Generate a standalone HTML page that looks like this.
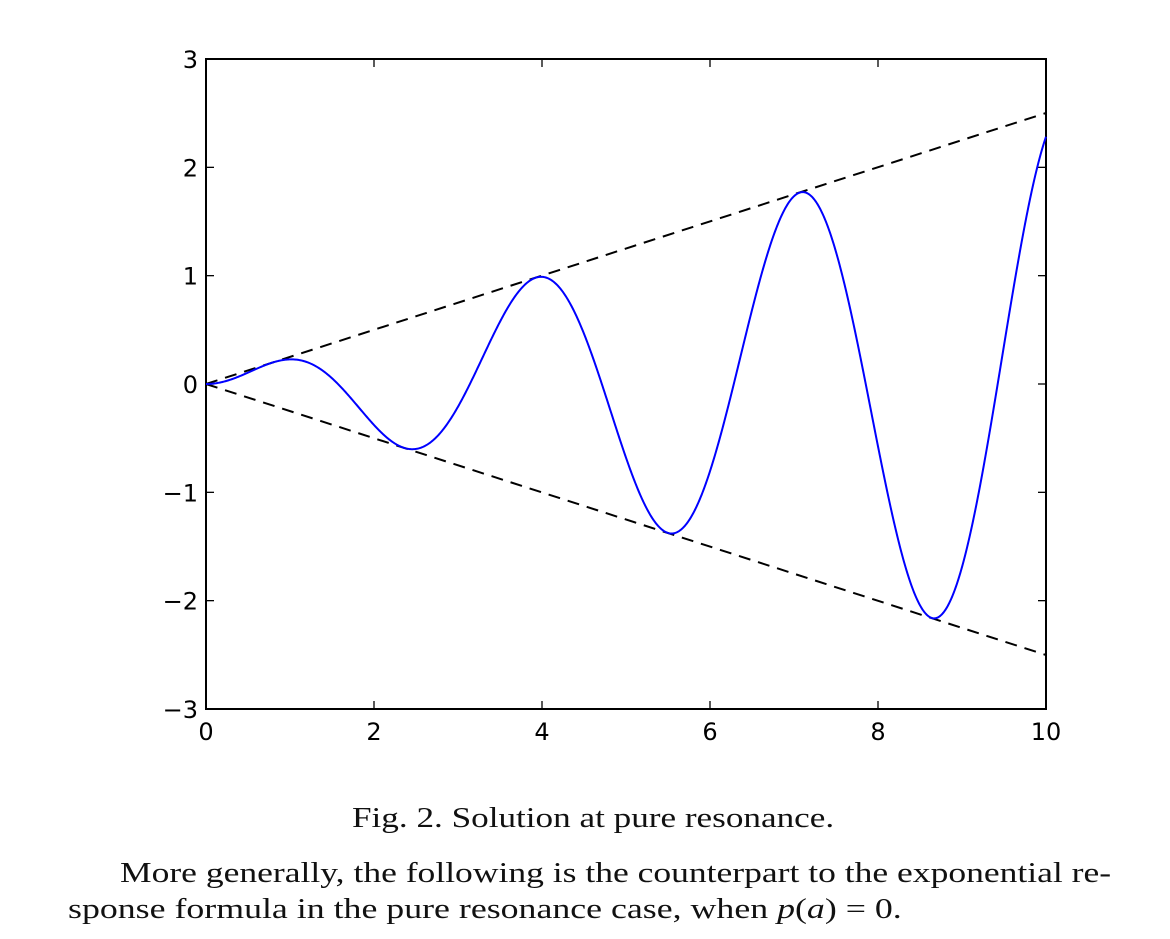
<!DOCTYPE html>
<html><head><meta charset="utf-8">
<style>
body{margin:0;background:#fff;width:1170px;height:939px;overflow:hidden;position:relative;font-family:"Liberation Serif",serif;}
.t{position:absolute;white-space:nowrap;color:#111;transform-origin:0 0;}
</style></head><body>
<svg id="s" width="1170" height="760" style="position:absolute;left:0;top:0" font-family="DejaVu Sans, Liberation Sans, sans-serif" font-size="24">
<rect x="206" y="59" width="840" height="650" fill="none" stroke="#000" stroke-width="2"/>
<g id="ticks" stroke="#000" stroke-width="1.3"></g>
<g id="labels"></g>
<line x1="206" y1="384" x2="1046" y2="113" stroke="#000" stroke-width="2" stroke-dasharray="12,8"/>
<line x1="206" y1="384" x2="1046" y2="655" stroke="#000" stroke-width="2" stroke-dasharray="12,8"/>
<path id="c" fill="none" stroke="#0000ff" stroke-width="2"/>
</svg>
<div class="t" style="left:352px;top:803px;font-size:28px;transform:scaleX(1.255);">Fig. 2. Solution at pure resonance.</div>
<div class="t" style="left:120px;top:857px;font-size:29px;transform:scaleX(1.225);">More generally, the following is the counterpart to the exponential re-</div>
<div class="t" style="left:68px;top:893px;font-size:29px;transform:scaleX(1.235);">sponse formula in the pure resonance case, when <i>p</i>(<i>a</i>) = 0.</div>
<script>
var X=function(t){return 206+84*t},Y=function(v){return 384-108.33*v};
var d="";for(var i=0;i<=1000;i++){var t=i/100;d+=(i?"L":"M")+X(t).toFixed(2)+" "+Y(t/4*Math.sin(2*t)).toFixed(2);}
document.getElementById("c").setAttribute("d",d);
var tk="",lb="";
for(var k=0;k<=10;k+=2){var x=X(k);tk+='<line x1="'+x+'" y1="59" x2="'+x+'" y2="67"/><line x1="'+x+'" y1="709" x2="'+x+'" y2="701"/>';
lb+='<text x="'+x+'" y="740" text-anchor="middle">'+k+'</text>';}
for(var v=-3;v<=3;v++){var y=Y(v);tk+='<line x1="206" y1="'+y+'" x2="214" y2="'+y+'"/><line x1="1046" y1="'+y+'" x2="1038" y2="'+y+'"/>';
lb+='<text x="198" y="'+(y+9)+'" text-anchor="end">'+(v<0?'\u2212'+(-v):v)+'</text>';}
document.getElementById("ticks").innerHTML=tk;document.getElementById("labels").innerHTML=lb;
</script>
</body></html>
